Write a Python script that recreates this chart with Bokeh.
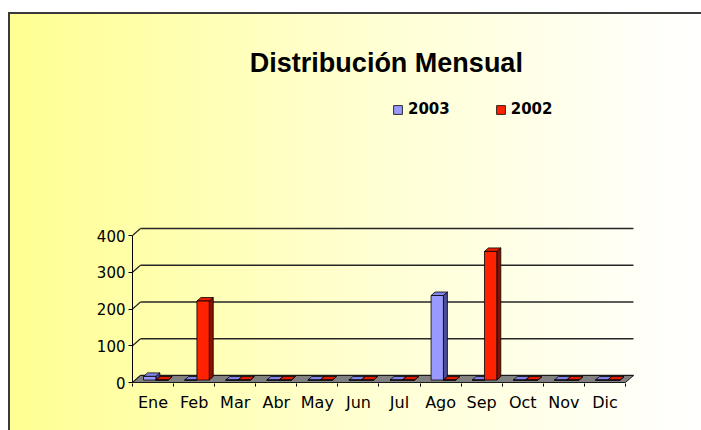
from bokeh.plotting import figure
from bokeh.models import Range1d, FixedTicker, Legend, LegendItem
from bokeh.embed import file_html
from bokeh.resources import INLINE
from bokeh.core.properties import value

# ---------------- data ----------------
title_text = "Distribución Mensual"
months = ["Ene", "Feb", "Mar", "Abr", "May", "Jun", "Jul", "Ago", "Sep", "Oct", "Nov", "Dic"]
series_names = ["2003", "2002"]
v2003 = [10, 0, 0, 0, 0, 0, 0, 230, 0, 0, 0, 0]
v2002 = [0, 215, 0, 0, 0, 0, 0, 0, 350, 0, 0, 0]
y_ticks = [0, 100, 200, 300, 400]

# ---------------- layout / styling ----------------
W, H = 701, 430
B_LEFT, B_RIGHT, B_BOTTOM = 132, 56, 47
PX_X = 41.08      # pixels per category
PX_Y = 0.3675     # pixels per value unit
DX = 8 / PX_X     # depth offset (x, data units)
DY = 7 / PX_Y     # depth offset (y, data units)

frame_w = W - B_LEFT - B_RIGHT
frame_h = H - B_BOTTOM
y_start = -1.0 / PX_Y
x_end = frame_w / PX_X
y_end = y_start + frame_h / PX_Y

front_cols = ["#9999ff", "#ff2200"]
side_cols = ["#4d4d99", "#8a1100"]
top_cols = ["#8585ee", "#e81c00"]

p = figure(width=W, height=H, x_range=Range1d(0, x_end), y_range=Range1d(y_start, y_end),
           output_backend="svg", toolbar_location=None,
           min_border_left=B_LEFT, min_border_right=B_RIGHT,
           min_border_top=0, min_border_bottom=B_BOTTOM)
p.background_fill_alpha = 0
p.border_fill_alpha = 0
p.outline_line_color = None
p.xgrid.visible = False
p.ygrid.visible = False
p.styles = {
    "background": ("linear-gradient(#ffffff,#ffffff) 0 0/100% 12px no-repeat, "
                   "linear-gradient(#ffffff,#ffffff) 0 0/8px 100% no-repeat, "
                   "linear-gradient(#3a3a3a,#3a3a3a) 8px 12px/100% 2px no-repeat, "
                   "linear-gradient(#3a3a3a,#3a3a3a) 8px 12px/2px 100% no-repeat, "
                   "linear-gradient(90deg, #ffff90 0%, #ffffd0 50%, #ffffff 100%)")
}

n = len(months)

# back wall gridlines and side-wall connectors
p.segment(x0=[DX] * len(y_ticks), y0=[t + DY for t in y_ticks],
          x1=[n + DX] * len(y_ticks), y1=[t + DY for t in y_ticks],
          line_color="#262626", line_width=1.5)
p.segment(x0=[0] * len(y_ticks), y0=y_ticks,
          x1=[DX] * len(y_ticks), y1=[t + DY for t in y_ticks],
          line_color="#262626", line_width=1.2)

# floor
p.patch(x=[0, n, n + DX, DX], y=[0, 0, DY, DY], fill_color="#808080",
        line_color="#1a1a1a", line_width=1)

# bars
CW = 0.3   # bar width (categories)
F0 = 0.35  # front face depth position
DEP = 0.5  # bar depth fraction
front_renderers = []
for s, vals in enumerate([v2003, v2002]):
    lefts = [i + 0.5 - CW + s * CW + F0 * DX for i in range(n)]
    rights = [l + CW for l in lefts]
    bot = F0 * DY
    tops = [v + bot for v in vals]
    ddx, ddy = DEP * DX, DEP * DY
    side_xs = [[r, r + ddx, r + ddx, r] for r in rights]
    side_ys = [[bot, bot + ddy, t + ddy, t] for t in tops]
    top_xs = [[l, r, r + ddx, l + ddx] for l, r in zip(lefts, rights)]
    top_ys = [[t, t, t + ddy, t + ddy] for t in tops]
    p.patches(xs=side_xs, ys=side_ys, fill_color=side_cols[s], line_color="black", line_width=0.8)
    p.patches(xs=top_xs, ys=top_ys, fill_color=top_cols[s], line_color="black", line_width=0.8)
    r = p.quad(left=lefts, right=rights, bottom=[bot] * n, top=tops,
               fill_color=front_cols[s], line_color="black", line_width=0.8)
    front_renderers.append(r)

# title
p.text(x=[n / 2 + 0.18], y=[(382 - 62) / PX_Y], text=[title_text],
       text_font=value("Liberation Sans"), text_font_size="27px", text_font_style="bold",
       text_align="center", text_baseline="alphabetic", text_color="black")

# legend
legend = Legend(items=[LegendItem(label=series_names[k], renderers=[front_renderers[k]]) for k in range(2)],
                location=(260, 265), orientation="horizontal",
                border_line_color=None, background_fill_alpha=0,
                padding=0, margin=0, spacing=45, label_standoff=5,
                glyph_width=11, glyph_height=11,
                label_text_font="DejaVu Sans", label_text_font_size="15px",
                label_text_font_style="bold", label_text_color="black")
p.add_layout(legend)

# y axis
ya = p.yaxis[0]
ya.ticker = FixedTicker(ticks=y_ticks)
ya.bounds = (0, max(y_ticks))
ya.axis_line_color = "black"
ya.major_tick_line_color = "black"
ya.major_tick_out = 4
ya.major_tick_in = 0
ya.minor_tick_line_color = None
ya.major_label_standoff = 3
ya.major_label_text_font = "DejaVu Sans"
ya.major_label_text_font_size = "15px"
ya.major_label_text_color = "black"

# x axis
xa = p.xaxis[0]
centers = [i + 0.5 for i in range(n)]
xa.ticker = FixedTicker(ticks=centers, minor_ticks=list(range(n + 1)))
xa.major_label_overrides = {c: m for c, m in zip(centers, months)}
xa.axis_line_color = None
xa.major_tick_line_color = None
xa.minor_tick_line_color = "black"
xa.minor_tick_out = 3
xa.minor_tick_in = 0
xa.major_label_standoff = 3
xa.major_label_text_font = "DejaVu Sans"
xa.major_label_text_font_size = "16px"
xa.major_label_text_color = "black"

open("out.html", "w").write(file_html(p, INLINE))
